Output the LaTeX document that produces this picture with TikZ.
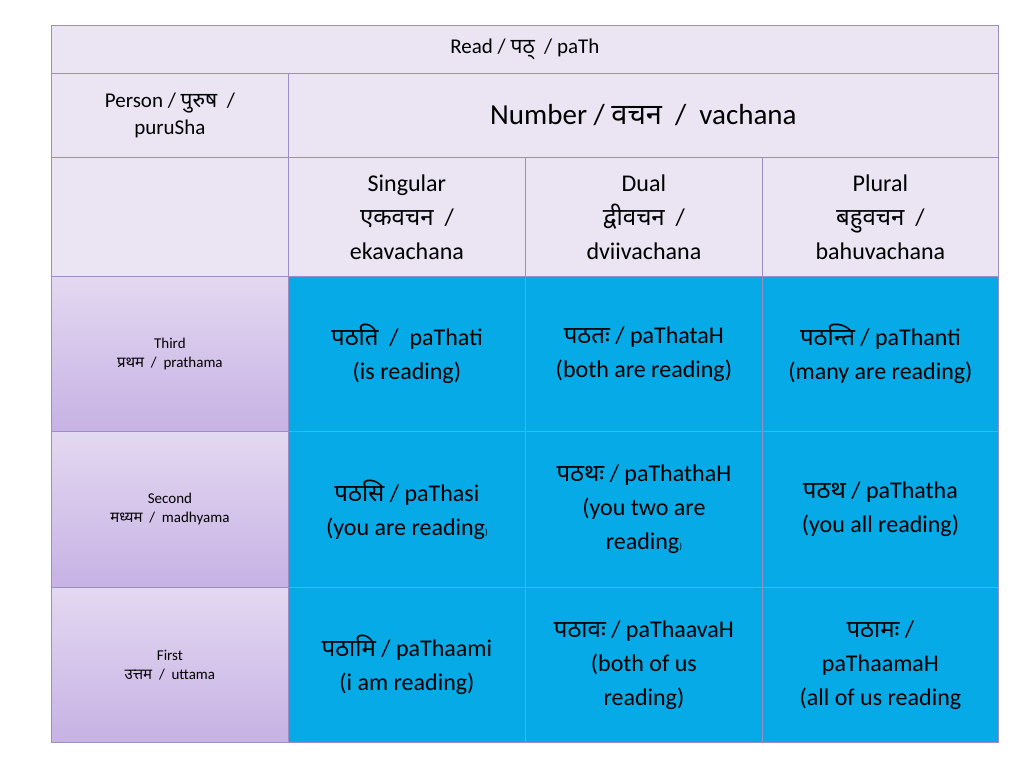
\documentclass[tikz,border=0pt]{standalone}
\usepackage{fontspec}
\setmainfont{Carlito}
\newfontfamily\devfont[Script=Devanagari]{Noto Sans}
\newcommand{\dv}[1]{{\devfont #1}}
\usetikzlibrary{positioning}

\definecolor{gridline}{HTML}{9C8DC2}
\definecolor{headfill}{HTML}{EAE4F3}
\definecolor{persontop}{HTML}{E3D8F1}
\definecolor{personbot}{HTML}{C7B2E4}
\definecolor{formfill}{HTML}{05AAE6}

\begin{document}
\begin{tikzpicture}[x=1pt, y=-1pt,
        cell/.style={draw=gridline, line width=0.8pt, anchor=north west, inner sep=2pt, align=center, text=black},
        head/.style={cell, fill=headfill},
        person/.style={cell, top color=persontop, bottom color=personbot, font=\fontsize{15}{19}\selectfont},
        form/.style={cell, fill=formfill, font=\fontsize{24}{34}\selectfont}
    ]
    \useasboundingbox (0,0) rectangle (1024,768);
    % header rows
    \node[head, minimum width=947pt, minimum height=48pt, font=\fontsize{21}{26}\selectfont] (read) at (51,25) {Read / \dv{पठ्} \ / paTh};
    \node[head, minimum width=237pt, minimum height=84pt, font=\fontsize{21}{28}\selectfont] (purusha) at (51,73) {Person / \dv{पुरुष} \ /\\puruSha};
    \node[head, minimum width=710pt, minimum height=84pt, font=\fontsize{29}{34}\selectfont] (vachana) at (288,73) {Number / \dv{वचन} \ / \ vachana};
    \node[head, minimum width=237pt, minimum height=119pt] (blank) at (51,157) {};
    \node[head, minimum width=237pt, minimum height=119pt, font=\fontsize{24}{34}\selectfont] (sing) at (288,157) {Singular\\\dv{एकवचन} \ /\\ekavachana};
    \node[head, minimum width=237pt, minimum height=119pt, font=\fontsize{24}{34}\selectfont] (dual) at (525,157) {Dual\\\dv{द्वीवचन} \ /\\dviivachana};
    \node[head, minimum width=236pt, minimum height=119pt, font=\fontsize{24}{34}\selectfont] (plur) at (762,157) {Plural\\\dv{बहुवचन} \ /\\bahuvachana};

    % person column
    \node[person, minimum width=237pt, minimum height=155pt] (third) at (51,276) {Third\\\dv{प्रथम} \ / \ prathama};
    \node[person, minimum width=237pt, minimum height=156pt] (second) at (51,431) {Second\\\dv{मध्यम} \ / \ madhyama};
    \node[person, minimum width=237pt, minimum height=155pt] (first) at (51,587) {First\\\dv{उत्तम} \ / \ uttama};

    % forms
    \node[form, minimum width=237pt, minimum height=155pt] (s3) at (288,276) {\dv{पठति} \ / \ paThati\\(is reading)};
    \node[form, minimum width=237pt, minimum height=155pt] (d3) at (525,276) {\dv{पठतः} / paThataH\\(both are reading)};
    \node[form, minimum width=236pt, minimum height=155pt] (p3) at (762,276) {\dv{पठन्ति} / paThanti\\(many are reading)};
    \node[form, minimum width=237pt, minimum height=156pt] (s2) at (288,431) {\dv{पठसि} / paThasi\\(you are reading{\small)}};
    \node[form, minimum width=237pt, minimum height=156pt] (d2) at (525,431) {\dv{पठथः} / paThathaH\\(you two are\\reading{\small)}};
    \node[form, minimum width=236pt, minimum height=156pt] (p2) at (762,431) {\dv{पठथ} / paThatha\\(you all reading)};
    \node[form, minimum width=237pt, minimum height=155pt] (s1) at (288,587) {\dv{पठामि} / paThaami\\(i am reading)};
    \node[form, minimum width=237pt, minimum height=155pt] (d1) at (525,587) {\dv{पठावः} / paThaavaH\\(both of us\\reading)};
    \node[form, minimum width=236pt, minimum height=155pt] (p1) at (762,587) {\dv{पठामः} /\\paThaamaH\\(all of us reading};
\end{tikzpicture}
\end{document}
